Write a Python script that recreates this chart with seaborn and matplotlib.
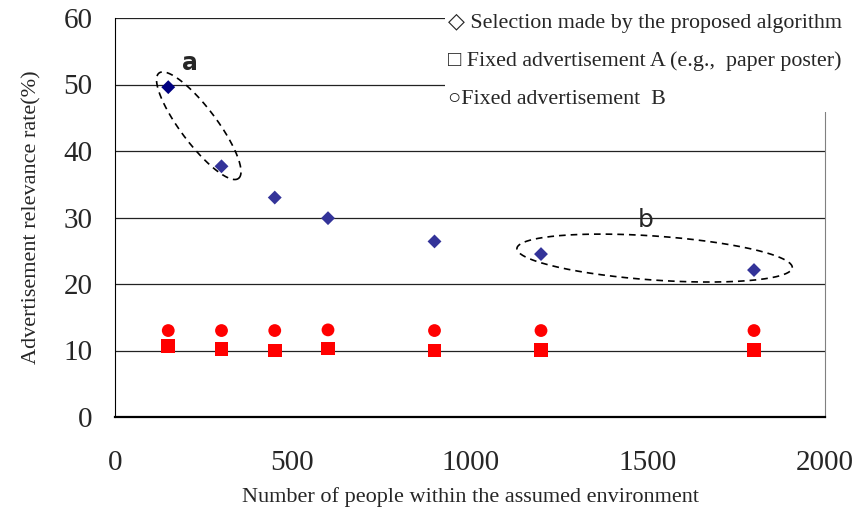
import numpy as np
import pandas as pd
import matplotlib
matplotlib.use("Agg")
import matplotlib.pyplot as plt
from matplotlib.patches import Rectangle
import seaborn as sns

# data
people = [150, 300, 450, 600, 900, 1200, 1800]
proposed = [49.6, 37.7, 33.0, 29.9, 26.4, 24.5, 22.1]
proposed_shade = ["dark", "mid", "mid", "mid", "mid", "mid", "mid"]
fixed_a = [10.7, 10.2, 10.0, 10.3, 10.0, 10.1, 10.1]
fixed_b = [13.0, 13.0, 13.0, 13.1, 13.0, 13.0, 13.0]

legend_labels = ["\u25c7 Selection made by the proposed algorithm",
                 "\u25a1 Fixed advertisement A (e.g.,  paper poster)",
                 "\u25cbFixed advertisement  B"]

sns.set_style("white")
serif = ["Liberation Serif", "DejaVu Serif", "DejaVu Sans"]
plt.rcParams["font.family"] = serif

fig = plt.figure(figsize=(8.59, 5.12), dpi=100)
ax = fig.add_axes([115 / 859, 95 / 512, 710 / 859, 399 / 512])

df = pd.DataFrame({"people": people, "proposed": proposed, "shade": proposed_shade,
                   "fixed_a": fixed_a, "fixed_b": fixed_b})

sns.scatterplot(data=df, x="people", y="fixed_b", color="#ff0000", marker="o",
                s=85, edgecolor="none", ax=ax, zorder=3)
sns.scatterplot(data=df, x="people", y="fixed_a", color="#ff0000", marker="s",
                s=100, edgecolor="none", ax=ax, zorder=3)
sns.scatterplot(data=df, x="people", y="proposed", hue="shade",
                palette={"dark": "#000080", "mid": "#333399"}, marker="D",
                s=50, edgecolor="none", legend=False, ax=ax, zorder=3)

ax.set_xlim(0, 2000)
ax.set_ylim(0, 60)
ax.set_xticks([0, 500, 1000, 1500, 2000])
ax.set_yticks(np.arange(0, 61, 10))
for yv in range(10, 61, 10):
    ax.axhline(yv, color="#222222", lw=0.9, zorder=1)

ax.spines["top"].set_visible(False)
ax.spines["right"].set_color("#808080")
ax.spines["left"].set_color("black")
ax.spines["bottom"].set_color("black")
ax.spines["bottom"].set_linewidth(1.6)
ax.tick_params(axis="x", direction="in", length=8, width=0.9, pad=24, labelsize=21)
ax.tick_params(axis="y", direction="out", length=0, pad=16, labelsize=21)

ax.set_xlabel("Number of people within the assumed environment", fontsize=16, labelpad=8)
ax.set_ylabel("Advertisement relevance rate(%)", fontsize=16, labelpad=16)

# dashed ellipses drawn in pixel units so they keep their shape
px_x = 710 / 2000
px_y = 399 / 60

def dashed_ellipse(cx, cy, a_px, b_px, angle_deg):
    t = np.linspace(0, 2 * np.pi, 200)
    th = np.deg2rad(angle_deg)
    u = a_px * np.cos(t)
    v = b_px * np.sin(t)
    dx = u * np.cos(th) - v * np.sin(th)
    dy = u * np.sin(th) + v * np.cos(th)
    ax.plot(cx + dx / px_x, cy + dy / px_y, ls=(0, (4, 3)), color="black", lw=1.2, zorder=4)

dashed_ellipse(236, 43.8, 66, 18, -53)
dashed_ellipse(1520, 23.9, 138, 22, -4)

ax.text(212, 53.3, "a", fontsize=17, fontweight="bold", family="DejaVu Sans", ha="center", va="center")
ax.text(1495, 29.6, "b", fontsize=18, family="DejaVu Sans", ha="center", va="center")

# white block behind the legend text, as in the original
fig.patches.append(Rectangle((445 / 859, 1 - 112 / 512), 1, 112 / 512, transform=fig.transFigure,
                             facecolor="white", edgecolor="none", zorder=5))
for i, lab in enumerate(legend_labels):
    fig.text(448 / 859, 1 - (23 + i * 38) / 512, lab, fontsize=15.8, va="center", ha="left",
             family=serif, zorder=6)

fig.savefig("out.png", dpi=100)
